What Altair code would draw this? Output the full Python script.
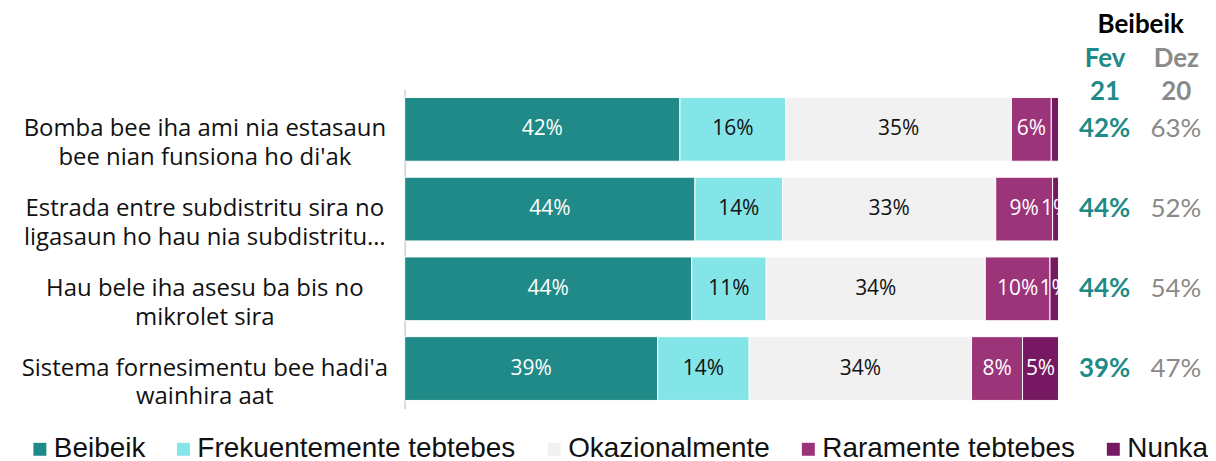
import altair as alt
import pandas as pd

# ---------------- data ----------------
questions = [
    "Bomba bee iha ami nia estasaun|bee nian funsiona ho di'ak",
    "Estrada entre subdistritu sira no|ligasaun ho hau nia subdistritu…",
    "Hau bele iha asesu ba bis no|mikrolet sira",
    "Sistema fornesimentu bee hadi'a|wainhira aat",
]
categories = ["Beibeik", "Frekuentemente tebtebes", "Okazionalmente",
              "Raramente tebtebes", "Nunka"]

beibeik = [42.1, 44.4, 43.9, 38.7]
frekuentemente = [16.2, 13.4, 11.4, 14.0]
okazionalmente = [34.5, 32.6, 33.5, 34.0]
raramente = [6.1, 8.7, 9.9, 7.8]
nunka = [1.1, 0.9, 1.3, 5.5]

beibeik_lbl = ["42%", "44%", "44%", "39%"]
frekuentemente_lbl = ["16%", "14%", "11%", "14%"]
okazionalmente_lbl = ["35%", "33%", "34%", "34%"]
raramente_lbl = ["6%", "9%", "10%", "8%"]
nunka_lbl = ["", "1%", "1%", "5%"]

periods = ["Fev 21", "Dez 20"]
fev21 = ["42%", "44%", "44%", "39%"]
dez20 = ["63%", "52%", "54%", "47%"]

colors = ["#1F8A87", "#84E5E8", "#F1F1F1", "#9C3479", "#761862"]
TEAL = "#1F8A87"
GRAY = "#8A8A8A"

# ---------------- tables ----------------
series = [beibeik, frekuentemente, okazionalmente, raramente, nunka]
labels = [beibeik_lbl, frekuentemente_lbl, okazionalmente_lbl, raramente_lbl, nunka_lbl]
rows = []
for ci, (cat, vals, lbls) in enumerate(zip(categories, series, labels)):
    for q, v, l in zip(questions, vals, lbls):
        rows.append({"question": q, "cat": cat, "order": ci, "value": v, "label": l})
df = pd.DataFrame(rows)

rrows = []
for q, a, b in zip(questions, fev21, dez20):
    rrows.append({"question": q, "period": periods[0], "label": a})
    rrows.append({"question": q, "period": periods[1], "label": b})
rdf = pd.DataFrame(rrows)

yscale = alt.Scale(domain=questions, paddingInner=0.2, paddingOuter=0.1)

base = alt.Chart(df).transform_stack(
    stack="value", groupby=["question"], sort=[alt.SortField("order")], as_=["x0", "x1"]
).transform_calculate(mid="(datum.x0 + datum.x1) / 2")

bars = base.mark_bar(stroke="white", strokeWidth=1).encode(
    y=alt.Y("question:N", scale=yscale, sort=questions, title=None,
            axis=alt.Axis(labelExpr="split(datum.label, '|')", labelAlign="center",
                          labelBaseline="middle",
                          labelPadding=201, labelFont="Open Sans", labelFontSize=24,
                          labelLineHeight=29, labelColor="#111111", labelLimit=0,
                          ticks=False, domainColor="#D9D9D9", domainWidth=2)),
    x=alt.X("x0:Q", scale=alt.Scale(domain=[0, 100], nice=False, zero=True), axis=None),
    x2="x1:Q",
    color=alt.Color("cat:N", scale=alt.Scale(domain=categories, range=colors),
                    legend=alt.Legend(title=None, orient="none", direction="horizontal",
                                      columns=5, legendX=-380, legendY=347,
                                      symbolType="square", symbolSize=169,
                                      symbolStrokeWidth=0,
                                      labelFont="Liberation Sans", labelFontSize=28,
                                      labelColor="#111111", labelOffset=0,
                                      columnPadding=24, labelLimit=0)),
)

texts = base.mark_text(font="Open Sans", fontSize=21, clip=True).encode(
    y=alt.Y("question:N", scale=yscale, sort=questions),
    x=alt.X("mid:Q"),
    text="label:N",
    color=alt.condition(
        "datum.cat == 'Frekuentemente tebtebes' || datum.cat == 'Okazionalmente'",
        alt.value("#111111"), alt.value("white")),
)

left = alt.layer(bars, texts).properties(width=656, height=320)

rbase = alt.Chart(rdf).encode(
    y=alt.Y("question:N", scale=yscale, sort=questions, axis=None),
    x=alt.X("period:N", sort=periods, scale=alt.Scale(type="point", padding=0.2),
            axis=alt.Axis(orient="top", title="Beibeik", titleFont="Lato",
                          titleFontSize=26, titleFontWeight="bold", titleColor="black",
                          titlePadding=8,
                          labelExpr="split(datum.label, ' ')", labelAngle=0,
                          labelFont="Lato", labelFontSize=26, labelFontWeight="bold",
                          labelLineHeight=33, labelPadding=18,
                          labelColor={"condition": {"test": "datum.value == 'Fev 21'",
                                                    "value": TEAL}, "value": GRAY},
                          ticks=False, domain=False)),
    text="label:N",
)
fev = rbase.transform_filter(alt.datum.period == periods[0]).mark_text(
    font="Lato", fontSize=26, fontWeight="bold", color=TEAL)
dez = rbase.transform_filter(alt.datum.period == periods[1]).mark_text(
    font="Lato", fontSize=26, color=GRAY)
right = alt.layer(fev, dez).properties(width=100, height=320)

chart = alt.hconcat(left, right, spacing=32, bounds="flush").properties(
    padding={"left": 13, "top": 3, "right": 0, "bottom": 0}
).configure_view(stroke=None)

chart.save("out.html", embed_options={"renderer": "svg", "actions": False})
